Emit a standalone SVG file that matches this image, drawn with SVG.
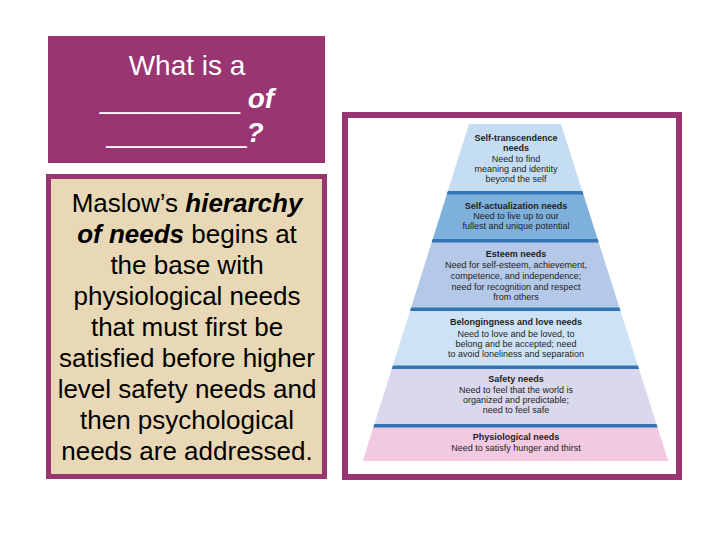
<svg xmlns="http://www.w3.org/2000/svg" width="720" height="540" viewBox="0 0 720 540">
<style>
.q{font-family:"Liberation Sans",Arial,sans-serif;font-size:28px;fill:#fff;text-anchor:middle}
.b{font-family:"Liberation Sans",Arial,sans-serif;font-size:26px;fill:#000;text-anchor:middle}
.bi{font-weight:bold;font-style:italic}
.h{font-family:"Liberation Sans",Arial,sans-serif;font-size:9px;font-weight:bold;fill:#1e1e1e;text-anchor:middle}
.t{font-family:"Liberation Sans",Arial,sans-serif;font-size:9px;fill:#1e1e1e;text-anchor:middle}
.stripe{fill:#3374b3}
</style>
<defs>
<clipPath id="pyr"><polygon points="469,124 561,124 668.3,461 362.7,461"/></clipPath>
</defs>
<rect width="720" height="540" fill="#fff"/>
<g id="title">
<rect x="48" y="36" width="277" height="127" fill="#993570"/>
<text class="q" x="187" y="75">What is a</text>
<text class="q" x="187" y="108">_________ <tspan class="bi">of</tspan></text>
<text class="q" x="185" y="142">_________<tspan class="bi">?</tspan></text>
</g>
<g id="description">
<rect x="48.5" y="176.5" width="276" height="300" fill="#e8d8b5" stroke="#993570" stroke-width="5"/>
<text class="b" x="187" y="211.5">Maslow’s <tspan class="bi">hierarchy</tspan></text>
<text class="b" x="187" y="242.5"><tspan class="bi">of needs</tspan> begins at</text>
<text class="b" x="187" y="273.5">the base with</text>
<text class="b" x="187" y="304.5">physiological needs</text>
<text class="b" x="187" y="335.5">that must first be</text>
<text class="b" x="187" y="366.5">satisfied before higher</text>
<text class="b" x="187" y="397.5">level safety needs and</text>
<text class="b" x="187" y="428.5">then psychological</text>
<text class="b" x="187" y="459.5">needs are addressed.</text>
</g>
<g id="frame">
<rect x="345" y="115" width="334" height="362" fill="#fff" stroke="#993570" stroke-width="6"/>
</g>
<g id="pyramid" clip-path="url(#pyr)">
<rect x="350" y="120" width="330" height="72" fill="#c5ddf2"/>
<rect x="350" y="192" width="330" height="48" fill="#7eb0dc"/>
<rect x="350" y="240" width="330" height="69" fill="#b4c8e8"/>
<rect x="350" y="309" width="330" height="58" fill="#cde2f5"/>
<rect x="350" y="367" width="330" height="59" fill="#dad8ec"/>
<rect x="350" y="426" width="330" height="40" fill="#f1c9e1"/>
<rect class="stripe" x="350" y="191" width="330" height="3.5"/>
<rect class="stripe" x="350" y="239" width="330" height="3.5"/>
<rect class="stripe" x="350" y="307.5" width="330" height="3.5"/>
<rect class="stripe" x="350" y="365.5" width="330" height="3.5"/>
<rect class="stripe" x="350" y="424" width="330" height="3.5"/>
</g>
<g id="level-self-transcendence">
<text class="h" x="516" y="140.5">Self-transcendence</text>
<text class="h" x="516" y="151">needs</text>
<text class="t" x="516" y="161.5">Need to find</text>
<text class="t" x="516" y="171.5">meaning and identity</text>
<text class="t" x="516" y="181.5">beyond the self</text>
</g>
<g id="level-self-actualization">
<text class="h" x="516" y="208.5">Self-actualization needs</text>
<text class="t" x="516" y="219.3">Need to live up to our</text>
<text class="t" x="516" y="229.3">fullest and unique potential</text>
</g>
<g id="level-esteem">
<text class="h" x="516" y="256.7">Esteem needs</text>
<text class="t" x="516" y="268.3">Need for self-esteem, achievement,</text>
<text class="t" x="516" y="279.3">competence, and independence;</text>
<text class="t" x="516" y="290">need for recognition and respect</text>
<text class="t" x="516" y="300">from others</text>
</g>
<g id="level-belonging">
<text class="h" x="516" y="325">Belongingness and love needs</text>
<text class="t" x="516" y="336.7">Need to love and be loved, to</text>
<text class="t" x="516" y="346.7">belong and be accepted; need</text>
<text class="t" x="516" y="356.7">to avoid loneliness and separation</text>
</g>
<g id="level-safety">
<text class="h" x="516" y="381.7">Safety needs</text>
<text class="t" x="516" y="393.3">Need to feel that the world is</text>
<text class="t" x="516" y="403.3">organized and predictable;</text>
<text class="t" x="516" y="413.3">need to feel safe</text>
</g>
<g id="level-physiological">
<text class="h" x="516" y="440">Physiological needs</text>
<text class="t" x="516" y="451">Need to satisfy hunger and thirst</text>
</g>
</svg>
